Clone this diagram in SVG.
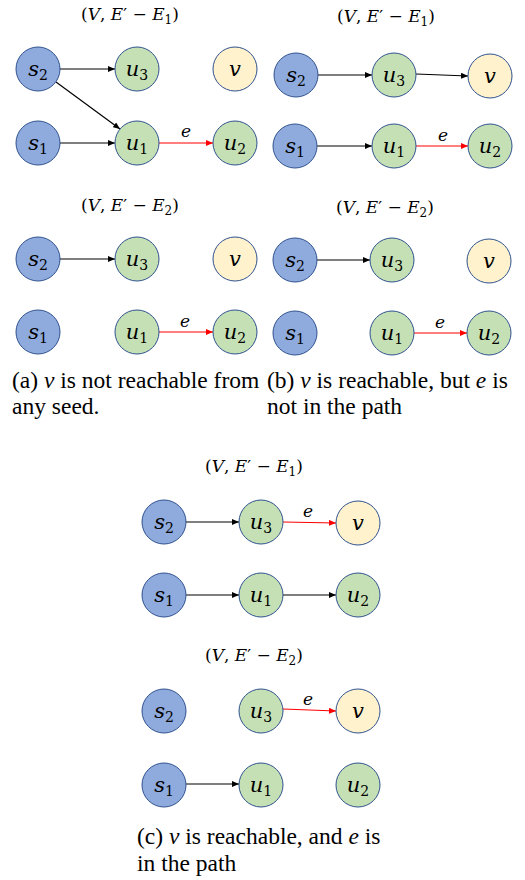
<svg xmlns="http://www.w3.org/2000/svg" width="525" height="880" viewBox="0 0 525 880">
<style>
.n circle{stroke:#2F528F;stroke-width:1}
.s circle{fill:#8FAADC}
.u circle{fill:#C5E0B4}
.v circle{fill:#FFF2CC}
.lbl{font-family:"DejaVu Serif","Liberation Serif",serif;font-size:21px;font-style:italic;text-anchor:middle;fill:#000}
.sub{font-size:14px;font-style:normal}
.ttl{font-family:"DejaVu Serif","Liberation Serif",serif;font-size:17px;text-anchor:middle;fill:#000}
.it{font-style:italic}
.cap{font-family:"Liberation Serif","Times New Roman",serif;font-size:23.5px;fill:#000}
.e{font-family:"DejaVu Serif","Liberation Serif",serif;font-size:17px;font-style:italic;text-anchor:middle;fill:#000}
.k{stroke:#000;stroke-width:1.2;fill:none;marker-end:url(#ak)}
.r{stroke:#FF0000;stroke-width:1.2;fill:none;marker-end:url(#ar)}
</style>
<defs>
<marker id="ak" markerUnits="userSpaceOnUse" markerWidth="7" markerHeight="6" refX="7" refY="3" orient="auto"><path d="M0,0 L7,3 L0,6 z" fill="#000"/></marker>
<marker id="ar" markerUnits="userSpaceOnUse" markerWidth="7" markerHeight="6" refX="7" refY="3" orient="auto"><path d="M0,0 L7,3 L0,6 z" fill="#FF0000"/></marker>
</defs>
<rect width="525" height="880" fill="#fff"/>

<!-- titles -->
<g id="titles">
<text class="ttl" x="130" y="20">(<tspan class="it">V</tspan>, <tspan class="it">E</tspan>′ − <tspan class="it">E</tspan><tspan font-size="12" dy="4">1</tspan><tspan dy="-4">)</tspan></text>
<text class="ttl" x="130" y="211">(<tspan class="it">V</tspan>, <tspan class="it">E</tspan>′ − <tspan class="it">E</tspan><tspan font-size="12" dy="4">2</tspan><tspan dy="-4">)</tspan></text>
<text class="ttl" x="386" y="22">(<tspan class="it">V</tspan>, <tspan class="it">E</tspan>′ − <tspan class="it">E</tspan><tspan font-size="12" dy="4">1</tspan><tspan dy="-4">)</tspan></text>
<text class="ttl" x="385" y="213">(<tspan class="it">V</tspan>, <tspan class="it">E</tspan>′ − <tspan class="it">E</tspan><tspan font-size="12" dy="4">2</tspan><tspan dy="-4">)</tspan></text>
<text class="ttl" x="254" y="472">(<tspan class="it">V</tspan>, <tspan class="it">E</tspan>′ − <tspan class="it">E</tspan><tspan font-size="12" dy="4">1</tspan><tspan dy="-4">)</tspan></text>
<text class="ttl" x="254" y="661">(<tspan class="it">V</tspan>, <tspan class="it">E</tspan>′ − <tspan class="it">E</tspan><tspan font-size="12" dy="4">2</tspan><tspan dy="-4">)</tspan></text>
</g>

<!-- connectors -->
<g id="connectors">
<line class="k" x1="60" y1="69" x2="115" y2="69"/>
<line class="k" x1="56" y1="82" x2="120" y2="129"/>
<line class="k" x1="60" y1="143" x2="115" y2="143"/>
<line class="r" x1="159" y1="143" x2="213" y2="143"/>
<text class="e" x="186" y="137">e</text>

<line class="k" x1="60" y1="259" x2="115" y2="259"/>
<line class="r" x1="159" y1="332" x2="213" y2="332"/>
<text class="e" x="185" y="327">e</text>

<line class="k" x1="318" y1="75" x2="372" y2="75"/>
<line class="k" x1="416" y1="74" x2="468" y2="76"/>
<line class="k" x1="317" y1="146" x2="372" y2="146"/>
<line class="r" x1="416" y1="146" x2="468" y2="146"/>
<text class="e" x="443" y="141">e</text>

<line class="k" x1="317" y1="260" x2="370" y2="260"/>
<line class="r" x1="414" y1="333" x2="467" y2="333"/>
<text class="e" x="440" y="328">e</text>

<line class="k" x1="186" y1="522" x2="239" y2="522"/>
<line class="r" x1="283" y1="522" x2="336" y2="523"/>
<text class="e" x="308" y="517">e</text>
<line class="k" x1="186" y1="595" x2="239" y2="595"/>
<line class="k" x1="283" y1="595" x2="336" y2="595"/>

<line class="r" x1="283" y1="709" x2="336" y2="711"/>
<text class="e" x="308" y="705">e</text>
<line class="k" x1="186" y1="784" x2="239" y2="784"/>
</g>

<!-- panel a -->
<g id="a1-s2" class="n s"><circle cx="38" cy="69" r="22"/><text class="lbl" x="38" y="76">s<tspan class="sub" dy="4">2</tspan></text></g>
<g id="a1-u3" class="n u"><circle cx="137" cy="69" r="22"/><text class="lbl" x="137" y="76">u<tspan class="sub" dy="4">3</tspan></text></g>
<g id="a1-v" class="n v"><circle cx="235" cy="69" r="22"/><text class="lbl" x="235" y="76">v</text></g>
<g id="a1-s1" class="n s"><circle cx="38" cy="143" r="22"/><text class="lbl" x="38" y="150">s<tspan class="sub" dy="4">1</tspan></text></g>
<g id="a1-u1" class="n u"><circle cx="137" cy="143" r="22"/><text class="lbl" x="137" y="150">u<tspan class="sub" dy="4">1</tspan></text></g>
<g id="a1-u2" class="n u"><circle cx="235" cy="143" r="22"/><text class="lbl" x="235" y="150">u<tspan class="sub" dy="4">2</tspan></text></g>

<g id="a2-s2" class="n s"><circle cx="38" cy="259" r="22"/><text class="lbl" x="38" y="266">s<tspan class="sub" dy="4">2</tspan></text></g>
<g id="a2-u3" class="n u"><circle cx="137" cy="259" r="22"/><text class="lbl" x="137" y="266">u<tspan class="sub" dy="4">3</tspan></text></g>
<g id="a2-v" class="n v"><circle cx="235" cy="259" r="22"/><text class="lbl" x="235" y="266">v</text></g>
<g id="a2-s1" class="n s"><circle cx="38" cy="332" r="22"/><text class="lbl" x="38" y="339">s<tspan class="sub" dy="4">1</tspan></text></g>
<g id="a2-u1" class="n u"><circle cx="137" cy="332" r="22"/><text class="lbl" x="137" y="339">u<tspan class="sub" dy="4">1</tspan></text></g>
<g id="a2-u2" class="n u"><circle cx="235" cy="332" r="22"/><text class="lbl" x="235" y="339">u<tspan class="sub" dy="4">2</tspan></text></g>

<!-- panel b -->
<g id="b1-s2" class="n s"><circle cx="296" cy="75" r="22"/><text class="lbl" x="296" y="82">s<tspan class="sub" dy="4">2</tspan></text></g>
<g id="b1-u3" class="n u"><circle cx="394" cy="75" r="22"/><text class="lbl" x="394" y="82">u<tspan class="sub" dy="4">3</tspan></text></g>
<g id="b1-v" class="n v"><circle cx="490" cy="76" r="22"/><text class="lbl" x="490" y="83">v</text></g>
<g id="b1-s1" class="n s"><circle cx="295" cy="146" r="22"/><text class="lbl" x="295" y="153">s<tspan class="sub" dy="4">1</tspan></text></g>
<g id="b1-u1" class="n u"><circle cx="394" cy="146" r="22"/><text class="lbl" x="394" y="153">u<tspan class="sub" dy="4">1</tspan></text></g>
<g id="b1-u2" class="n u"><circle cx="490" cy="146" r="22"/><text class="lbl" x="490" y="153">u<tspan class="sub" dy="4">2</tspan></text></g>

<g id="b2-s2" class="n s"><circle cx="295" cy="260" r="22"/><text class="lbl" x="295" y="267">s<tspan class="sub" dy="4">2</tspan></text></g>
<g id="b2-u3" class="n u"><circle cx="392" cy="260" r="22"/><text class="lbl" x="392" y="267">u<tspan class="sub" dy="4">3</tspan></text></g>
<g id="b2-v" class="n v"><circle cx="489" cy="261" r="22"/><text class="lbl" x="489" y="268">v</text></g>
<g id="b2-s1" class="n s"><circle cx="295" cy="333" r="22"/><text class="lbl" x="295" y="340">s<tspan class="sub" dy="4">1</tspan></text></g>
<g id="b2-u1" class="n u"><circle cx="392" cy="333" r="22"/><text class="lbl" x="392" y="340">u<tspan class="sub" dy="4">1</tspan></text></g>
<g id="b2-u2" class="n u"><circle cx="489" cy="333" r="22"/><text class="lbl" x="489" y="340">u<tspan class="sub" dy="4">2</tspan></text></g>

<!-- panel c -->
<g id="c1-s2" class="n s"><circle cx="164" cy="522" r="22"/><text class="lbl" x="164" y="529">s<tspan class="sub" dy="4">2</tspan></text></g>
<g id="c1-u3" class="n u"><circle cx="261" cy="522" r="22"/><text class="lbl" x="261" y="529">u<tspan class="sub" dy="4">3</tspan></text></g>
<g id="c1-v" class="n v"><circle cx="358" cy="523" r="22"/><text class="lbl" x="358" y="530">v</text></g>
<g id="c1-s1" class="n s"><circle cx="164" cy="595" r="22"/><text class="lbl" x="164" y="602">s<tspan class="sub" dy="4">1</tspan></text></g>
<g id="c1-u1" class="n u"><circle cx="261" cy="595" r="22"/><text class="lbl" x="261" y="602">u<tspan class="sub" dy="4">1</tspan></text></g>
<g id="c1-u2" class="n u"><circle cx="358" cy="595" r="22"/><text class="lbl" x="358" y="602">u<tspan class="sub" dy="4">2</tspan></text></g>

<g id="c2-s2" class="n s"><circle cx="164" cy="711" r="22"/><text class="lbl" x="164" y="718">s<tspan class="sub" dy="4">2</tspan></text></g>
<g id="c2-u3" class="n u"><circle cx="261" cy="711" r="22"/><text class="lbl" x="261" y="718">u<tspan class="sub" dy="4">3</tspan></text></g>
<g id="c2-v" class="n v"><circle cx="358" cy="711" r="22"/><text class="lbl" x="358" y="718">v</text></g>
<g id="c2-s1" class="n s"><circle cx="164" cy="785" r="22"/><text class="lbl" x="164" y="792">s<tspan class="sub" dy="4">1</tspan></text></g>
<g id="c2-u1" class="n u"><circle cx="261" cy="785" r="22"/><text class="lbl" x="261" y="792">u<tspan class="sub" dy="4">1</tspan></text></g>
<g id="c2-u2" class="n u"><circle cx="358" cy="785" r="22"/><text class="lbl" x="358" y="792">u<tspan class="sub" dy="4">2</tspan></text></g>

<!-- captions -->
<g id="captions">
<text class="cap" x="12" y="388">(a) <tspan class="it">v</tspan> is not reachable from</text>
<text class="cap" x="12" y="414">any seed.</text>
<text class="cap" x="267" y="388">(b) <tspan class="it">v</tspan> is reachable, but <tspan class="it">e</tspan> is</text>
<text class="cap" x="267" y="414">not in the path</text>
<text class="cap" x="137" y="844">(c) <tspan class="it">v</tspan> is reachable, and <tspan class="it">e</tspan> is</text>
<text class="cap" x="137" y="871">in the path</text>
</g>
</svg>
